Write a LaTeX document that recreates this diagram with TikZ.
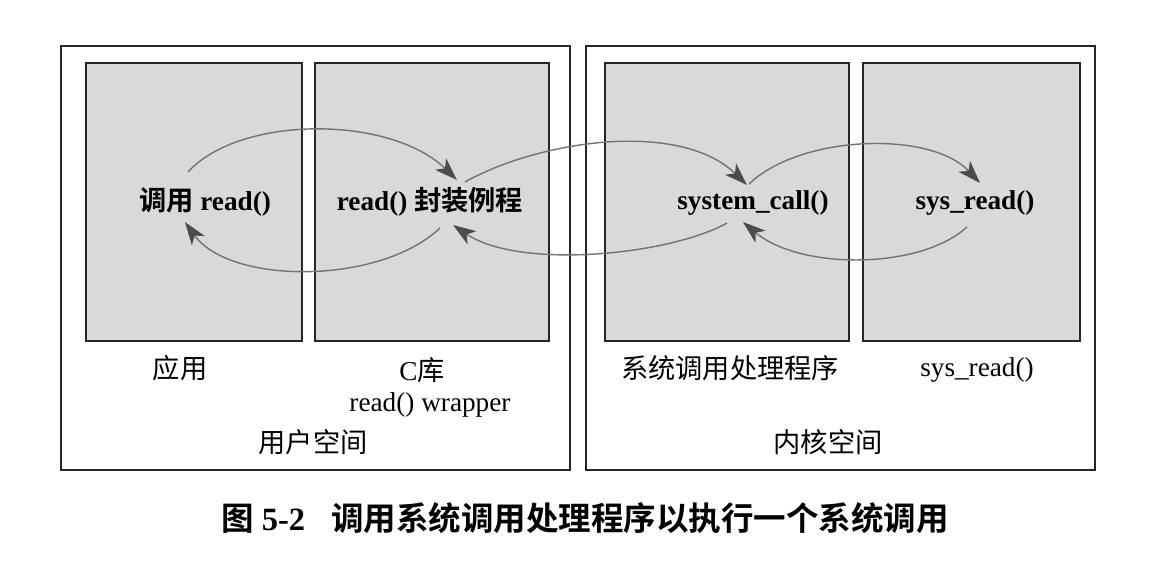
\documentclass[tikz,border=0pt]{standalone}
\usepackage{fontspec}
\setmainfont{Liberation Serif}
\newfontfamily\cjk{Noto Sans CJK SC}[BoldFont={Noto Sans CJK SC Bold}]
\usetikzlibrary{arrows.meta}
\tikzset{
  frame/.style={draw=black!85, line width=1.2pt},
  box/.style={fill=black!15, draw=black!85, line width=1.2pt},
  boxtxt/.style={font=\fontsize{15.5}{18}\selectfont\bfseries},
  lbl/.style={font=\fontsize{15.5}{18}\selectfont},
  call/.style={draw=black!55, line width=0.8pt, -{Stealth[length=13pt,width=9pt,inset=3.5pt,color=black!70]}},
}
\begin{document}
\begin{tikzpicture}[x=0.02cm,y=-0.02cm]
  \useasboundingbox (0,0) rectangle (1150,562);
  % user space and kernel space
  \draw[frame] (61,46) rectangle (570,470);
  \draw[frame] (586,46) rectangle (1095,470);
  \filldraw[box] (86,63) rectangle (302,341);
  \filldraw[box] (315,63) rectangle (549,341);
  \filldraw[box] (605,63) rectangle (849,341);
  \filldraw[box] (863,63) rectangle (1080,341);
  \node[boxtxt] (app) at (205,202) {{\cjk\bfseries 调用} read()};
  \node[boxtxt] (wrap) at (430,202) {read() {\cjk\bfseries 封装例程}};
  \node[boxtxt] (syscall) at (753,203) {system\_call()};
  \node[boxtxt] (sysread) at (975,203) {sys\_read()};
  \node[lbl] (applbl) at (180,368) {\cjk 应用};
  \node[lbl] (clib) at (422,370) {C{\cjk 库}};
  \node[lbl] (wraplbl) at (430,405) {read() wrapper};
  \node[lbl] (user) at (313,442) {\cjk 用户空间};
  \node[lbl] (handler) at (730,368) {\cjk 系统调用处理程序};
  \node[lbl] (readlbl) at (977,370) {sys\_read()};
  \node[lbl] (kernel) at (828,442) {\cjk 内核空间};
  % arrow ends
  \coordinate (a1) at (188,172);
  \coordinate (w1) at (457,180);
  \coordinate (w2) at (465,182);
  \coordinate (s1) at (747,185);
  \coordinate (s2) at (749,184);
  \coordinate (r1) at (980,183);
  \coordinate (r2) at (967,227);
  \coordinate (s3) at (743,222);
  \coordinate (s4) at (727,223);
  \coordinate (w3) at (453,225);
  \coordinate (w4) at (440,228);
  \coordinate (a2) at (185,222);
  \draw[call] (a1) .. controls (240,115) and (390,115) .. (w1);
  \draw[call] (w2) .. controls (540,140) and (680,120) .. (s1);
  \draw[call] (s2) .. controls (800,135) and (930,130) .. (r1);
  \draw[call] (r2) .. controls (920,270) and (800,270) .. (s3);
  \draw[call] (s4) .. controls (670,255) and (520,270) .. (w3);
  \draw[call] (w4) .. controls (380,285) and (230,285) .. (a2);
  \node[anchor=west, font=\fontsize{18.5}{22}\selectfont\bfseries] (caption) at (215,518)
    {{\cjk\bfseries 图} 5-2\hspace{0.8em}{\cjk\bfseries 调用系统调用处理程序以执行一个系统调用}};
\end{tikzpicture}
\end{document}
